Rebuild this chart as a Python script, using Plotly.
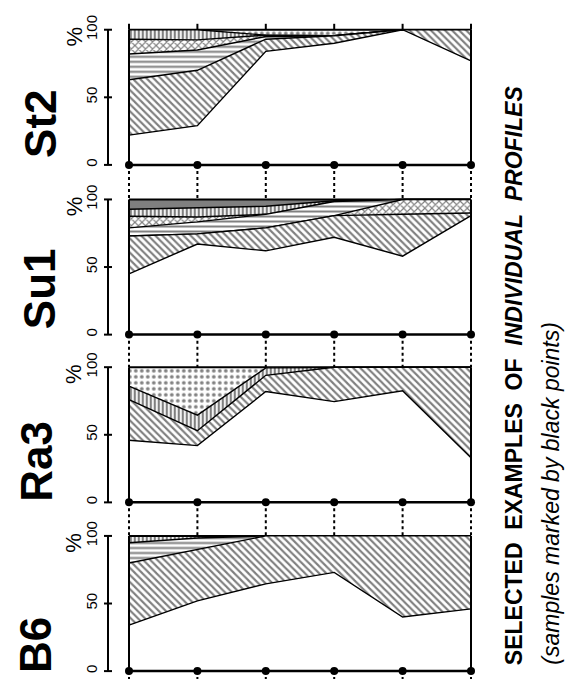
import plotly.graph_objects as go

W, H = 565, 679

# ---------------- data ----------------
sample_idx = [0, 1, 2, 3, 4, 5]          # six samples (black points)
panel_names = ["St2", "Su1", "Ra3", "B6"]
tick_vals = [0, 50, 100]
tick_text = ["0", "50", "100"]

# lower boundary (%) of each layer, layers listed from the top (100 %) downward
st2_dots  = [100, 100, 96, 95.5, 100, 100]
st2_vert  = [93, 92.5, 96, 95.5, 100, 100]
st2_cross = [82, 85, 95, 95.5, 100, 100]
st2_horiz = [63, 70, 93, 95.5, 100, 100]
st2_diag  = [22, 29, 84, 90, 100, 77]

su1_dark   = [92.7, 93.6, 95, 99, 100, 100]
su1_vert   = [87.6, 87, 89, 98.5, 100, 100]
su1_cross  = [79, 83.4, 89, 98.5, 100, 100]
su1_horiz  = [73, 74.5, 79, 88, 100, 100]
su1_cross2 = [73, 74.5, 79, 88, 89, 90]
su1_diag   = [45, 67, 62, 72, 58, 88]

ra3_dots = [86, 64.5, 99.5, 100, 100, 100]
ra3_vert = [76, 53, 94, 100, 100, 100]
ra3_diag = [46, 42, 82, 74.5, 82.5, 33]

b6_vert  = [95, 98.5, 100, 100, 100, 100]
b6_horiz = [80, 90, 100, 100, 100, 100]
b6_diag  = [34, 52, 64.5, 73, 40, 46]

panels = [
    [(st2_dots, "dots"), (st2_vert, "vert"), (st2_cross, "cross"),
     (st2_horiz, "horiz"), (st2_diag, "diag")],
    [(su1_dark, "dark"), (su1_vert, "vert"), (su1_cross, "cross"),
     (su1_horiz, "horiz"), (su1_cross2, "cross"), (su1_diag, "diag")],
    [(ra3_dots, "dots"), (ra3_vert, "vert"), (ra3_diag, "diag")],
    [(b6_vert, "vert"), (b6_horiz, "horiz"), (b6_diag, "diag")],
]

# ---------------- layout geometry ----------------
X0PX, X1PX = 129, 471
STEP = (X1PX - X0PX) / 5
XR = [-0.12, 5.12]
PANEL_PX = [(158, 21), (330, 193), (500, 363), (671, 534)]   # pixel of 0 % and 100 %
YR = [-4, 104]
AXIS_X = 108

def xpx(v):
    return X0PX + v * STEP

def ypx(k, v):
    z, h = PANEL_PX[k]
    return z - v / 100.0 * (z - h)

def px2x(p):
    return p / W

def px2y(p):
    return 1 - p / H

PAT = {
    "diag":  dict(shape="\\", size=5, solidity=0.42),
    "vert":  dict(shape="|", size=4, solidity=0.55),
    "horiz": dict(shape="-", size=5, solidity=0.4),
    "cross": dict(shape="x", size=5, solidity=0.4),
    "dots":  dict(shape=".", size=6, solidity=0.3),
    "dark":  dict(shape=".", size=4, solidity=0.95),
}

fig = go.Figure()

for k, layers in enumerate(panels):
    ya = "y" if k == 0 else f"y{k+1}"
    # top edge (100 %)
    fig.add_trace(go.Scatter(x=sample_idx, y=[100] * 6, mode="lines",
                             line=dict(color="black", width=2),
                             xaxis="x", yaxis=ya, hoverinfo="skip"))
    for vals, kind in layers:
        p = dict(PAT[kind])
        p.update(fgcolor="black", bgcolor="white")
        fig.add_trace(go.Scatter(x=sample_idx, y=vals, mode="lines",
                                 fill="tonexty", fillcolor="white",
                                 fillpattern=p,
                                 line=dict(color="black", width=1.4),
                                 xaxis="x", yaxis=ya, hoverinfo="skip"))
    # frame sides
    for xv in (sample_idx[0], sample_idx[-1]):
        fig.add_trace(go.Scatter(x=[xv, xv], y=[0, 100], mode="lines",
                                 line=dict(color="black", width=2),
                                 xaxis="x", yaxis=ya, hoverinfo="skip"))
    # baseline with sample points
    fig.add_trace(go.Scatter(x=sample_idx, y=[0] * 6, mode="lines+markers",
                             line=dict(color="black", width=2.5),
                             marker=dict(color="black", size=8),
                             cliponaxis=False,
                             xaxis="x", yaxis=ya, hoverinfo="skip"))

layout = dict(
    width=W, height=H,
    margin=dict(l=0, r=0, t=0, b=0),
    paper_bgcolor="white", plot_bgcolor="white",
    showlegend=False,
    xaxis=dict(domain=[px2x(xpx(XR[0])), px2x(xpx(XR[1]))], range=XR,
               visible=False, anchor="y4"),
)

for k in range(4):
    key = "yaxis" if k == 0 else f"yaxis{k+1}"
    layout[key] = dict(
        domain=[px2y(ypx(k, YR[0])), px2y(ypx(k, YR[1]))],
        range=YR, anchor="free", position=px2x(AXIS_X),
        showgrid=False, zeroline=False, showline=False,
        tickmode="array", tickvals=tick_vals, ticktext=tick_text,
        tickangle=-90, ticks="outside", ticklen=5,
        tickcolor="rgba(0,0,0,0)",
        tickfont=dict(family="Liberation Sans", size=15, color="black"),
    )

fig.update_layout(**layout)

shapes = []
line_k = dict(color="black", width=2)
for k in range(4):
    # y axis line
    shapes.append(dict(type="line", xref="paper", yref="paper",
                       x0=px2x(AXIS_X), x1=px2x(AXIS_X),
                       y0=px2y(ypx(k, 0)), y1=px2y(ypx(k, 100)), line=line_k))
    for tv in tick_vals:
        shapes.append(dict(type="line", xref="paper", yref="paper",
                           x0=px2x(AXIS_X - 4), x1=px2x(AXIS_X + 4),
                           y0=px2y(ypx(k, tv)), y1=px2y(ypx(k, tv)), line=line_k))
# dotted connectors between panels
for k in range(3):
    for i in sample_idx:
        shapes.append(dict(type="line", xref="paper", yref="paper",
                           x0=px2x(xpx(i)), x1=px2x(xpx(i)),
                           y0=px2y(ypx(k, 0)), y1=px2y(ypx(k + 1, 100)),
                           line=dict(color="black", width=2, dash="dot")))
# small ticks above the first panel and below the last one
for i in sample_idx:
    shapes.append(dict(type="line", xref="paper", yref="paper",
                       x0=px2x(xpx(i)), x1=px2x(xpx(i)),
                       y0=px2y(ypx(0, 100)), y1=px2y(ypx(0, 100) - 6),
                       line=line_k))
    shapes.append(dict(type="line", xref="paper", yref="paper",
                       x0=px2x(xpx(i)), x1=px2x(xpx(i)),
                       y0=px2y(ypx(3, 0)), y1=0,
                       line=dict(color="black", width=2, dash="dot")))

annotations = []
label_x = [41, 39, 37, 35]
label_bottom = [153, 327, 502, 675]
for k, name in enumerate(panel_names):
    annotations.append(dict(
        text=f"<b>{name}</b>", xref="paper", yref="paper",
        x=px2x(label_x[k]), y=px2y(label_bottom[k]),
        xanchor="center", yanchor="bottom", textangle=-90, showarrow=False,
        font=dict(family="Liberation Sans", size=44, color="black")))
    annotations.append(dict(
        text="%", xref="paper", yref="paper",
        x=px2x(74), y=px2y(ypx(k, 95)),
        xanchor="center", yanchor="middle", textangle=-90, showarrow=False,
        font=dict(family="Liberation Sans", size=22, color="black")))

nb = "\u00a0\u00a0"
annotations.append(dict(
    text=f"<b>SELECTED{nb}EXAMPLES{nb}OF{nb}<i>INDIVIDUAL{nb}PROFILES</i></b>",
    xref="paper", yref="paper", x=px2x(514), y=px2y(667),
    xanchor="center", yanchor="bottom", textangle=-90, showarrow=False,
    font=dict(family="Liberation Sans", size=23, color="black")))
annotations.append(dict(
    text="<i>(samples marked by black points)</i>",
    xref="paper", yref="paper", x=px2x(551), y=px2y(667),
    xanchor="center", yanchor="bottom", textangle=-90, showarrow=False,
    font=dict(family="Liberation Sans", size=23, color="black")))

fig.update_layout(shapes=shapes, annotations=annotations)

fig.write_html(
    "out.html",
    config={"displayModeBar": False},
    post_script="document.body.style.margin='0px';document.body.style.overflow='hidden';",
)
